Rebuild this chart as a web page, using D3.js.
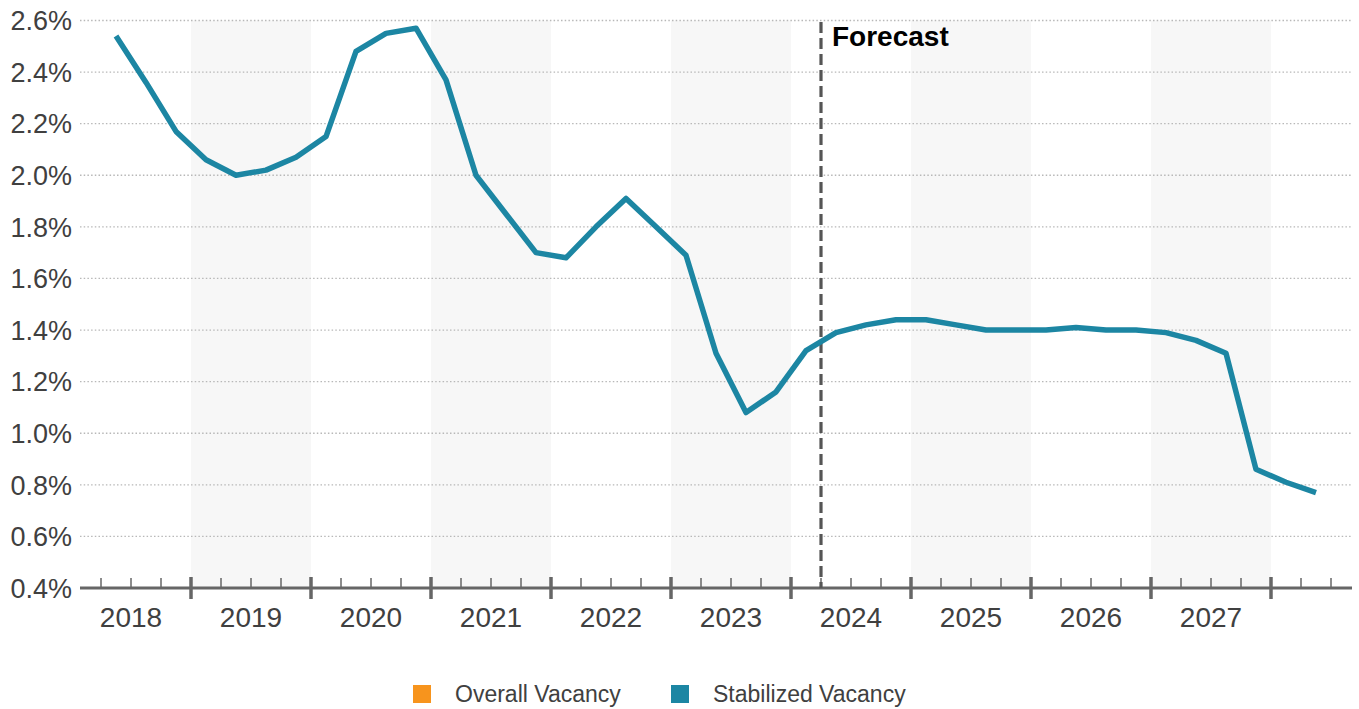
<!DOCTYPE html>
<html>
<head>
<meta charset="utf-8">
<script src="https://cdn.jsdelivr.net/npm/d3@7"></script>
<style>
  html, body { margin: 0; padding: 0; background: #fff; }
  svg { display: block; font-family: "Liberation Sans", Arial, sans-serif; }
</style>
</head>
<body>
<svg id="chart" width="1359" height="709"></svg>
<script>
// ---- data ----
const quarters = [
  "2018Q2","2018Q3","2018Q4",
  "2019Q1","2019Q2","2019Q3","2019Q4",
  "2020Q1","2020Q2","2020Q3","2020Q4",
  "2021Q1","2021Q2","2021Q3","2021Q4",
  "2022Q1","2022Q2","2022Q3","2022Q4",
  "2023Q1","2023Q2","2023Q3","2023Q4",
  "2024Q1","2024Q2","2024Q3","2024Q4",
  "2025Q1","2025Q2","2025Q3","2025Q4",
  "2026Q1","2026Q2","2026Q3","2026Q4",
  "2027Q1","2027Q2","2027Q3","2027Q4",
  "2028Q1","2028Q2"
];
const stabilizedVacancy = [
  2.54, 2.36, 2.17,
  2.06, 2.00, 2.02, 2.07,
  2.15, 2.48, 2.55, 2.57,
  2.37, 2.00, 1.85, 1.70,
  1.68, 1.80, 1.91, 1.80,
  1.69, 1.31, 1.08, 1.16,
  1.32, 1.39, 1.42, 1.44,
  1.44, 1.42, 1.40, 1.40,
  1.40, 1.41, 1.40, 1.40,
  1.39, 1.36, 1.31, 0.86,
  0.81, 0.77
];
const yearLabels = ["2018","2019","2020","2021","2022","2023","2024","2025","2026","2027"];
const shadedYears = ["2019","2021","2023","2025","2027"];
const yTicks = [0.4, 0.6, 0.8, 1.0, 1.2, 1.4, 1.6, 1.8, 2.0, 2.2, 2.4, 2.6];
const forecastStart = "2024Q2";
const legendItems = [
  { name: "Overall Vacancy", color: "#f7941d" },
  { name: "Stabilized Vacancy", color: "#1c86a3" }
];

// ---- layout ----
const svg = d3.select("#chart");
const firstYear = 2018;
const qIndex = q => (+q.slice(0, 4) - firstYear) * 4 + (+q.slice(5) - 1);
const x = d3.scaleLinear().domain([0, 44]).range([71, 71 + 44 * 30]);
const y = d3.scaleLinear().domain([0.4, 2.6]).range([588, 20.5]);
const plotLeft = 80, plotRight = 1352;
const textColor = "#404040";

// shaded year bands
svg.append("g").selectAll("rect").data(shadedYears).join("rect")
  .attr("x", d => x((+d - firstYear) * 4))
  .attr("width", d => x((+d - firstYear) * 4 + 4) - x((+d - firstYear) * 4))
  .attr("y", y(2.6))
  .attr("height", y(0.4) - y(2.6))
  .attr("fill", "#f7f7f7");

// gridlines
svg.append("g").selectAll("line").data(yTicks.filter(d => d > 0.4)).join("line")
  .attr("x1", plotLeft).attr("x2", plotRight)
  .attr("y1", d => y(d)).attr("y2", d => y(d))
  .attr("stroke", "#b8b8b8").attr("stroke-width", 1.3)
  .attr("stroke-dasharray", "1.5,2.2");

// y labels
svg.append("g").selectAll("text").data(yTicks).join("text")
  .attr("x", 72).attr("y", d => y(d))
  .attr("dy", "0.36em")
  .attr("text-anchor", "end")
  .attr("font-size", 27)
  .attr("fill", textColor)
  .text(d => d3.format(".1f")(d) + "%");

// x axis
const axisY = y(0.4);
const axis = svg.append("g");
axis.append("line")
  .attr("x1", plotLeft).attr("x2", plotRight)
  .attr("y1", axisY).attr("y2", axisY)
  .attr("stroke", "#666").attr("stroke-width", 3);
const tickIdx = d3.range(1, 43);
axis.selectAll("line.tick").data(tickIdx).join("line")
  .attr("class", "tick")
  .attr("x1", d => x(d)).attr("x2", d => x(d))
  .attr("y1", d => d % 4 === 0 ? axisY - 11 : axisY - 10)
  .attr("y2", d => d % 4 === 0 ? axisY + 11 : axisY)
  .attr("stroke", "#666")
  .attr("stroke-width", d => d % 4 === 0 ? 3.5 : 1.5);
axis.selectAll("text").data(yearLabels).join("text")
  .attr("x", d => x((+d - firstYear) * 4 + 2))
  .attr("y", 627)
  .attr("text-anchor", "middle")
  .attr("font-size", 28)
  .attr("fill", textColor)
  .text(d => d);

// forecast line
const fx = x(qIndex(forecastStart));
svg.append("line")
  .attr("x1", fx).attr("x2", fx)
  .attr("y1", 22).attr("y2", axisY)
  .attr("stroke", "#555").attr("stroke-width", 3.2)
  .attr("stroke-dasharray", "11,5");
svg.append("text")
  .attr("x", fx + 11).attr("y", 46)
  .attr("font-size", 28).attr("font-weight", "bold")
  .attr("fill", "#000")
  .text("Forecast");

// series line
const pts = quarters.map((q, i) => ({ q: qIndex(q) + 0.5, v: stabilizedVacancy[i] }));
svg.append("path")
  .datum(pts)
  .attr("fill", "none")
  .attr("stroke", legendItems[1].color)
  .attr("stroke-width", 5.5)
  .attr("stroke-linejoin", "round")
  .attr("d", d3.line().x(d => x(d.q)).y(d => y(d.v)));

// legend
const legendX = [413, 671];
const lg = svg.append("g").selectAll("g").data(legendItems).join("g")
  .attr("transform", (d, i) => `translate(${legendX[i]},694)`);
lg.append("rect").attr("x", 0).attr("y", -9).attr("width", 18).attr("height", 18)
  .attr("fill", d => d.color);
lg.append("text").attr("x", 42).attr("y", 0).attr("dy", "0.36em")
  .attr("font-size", 23).attr("fill", textColor)
  .text(d => d.name);
</script>
</body>
</html>
